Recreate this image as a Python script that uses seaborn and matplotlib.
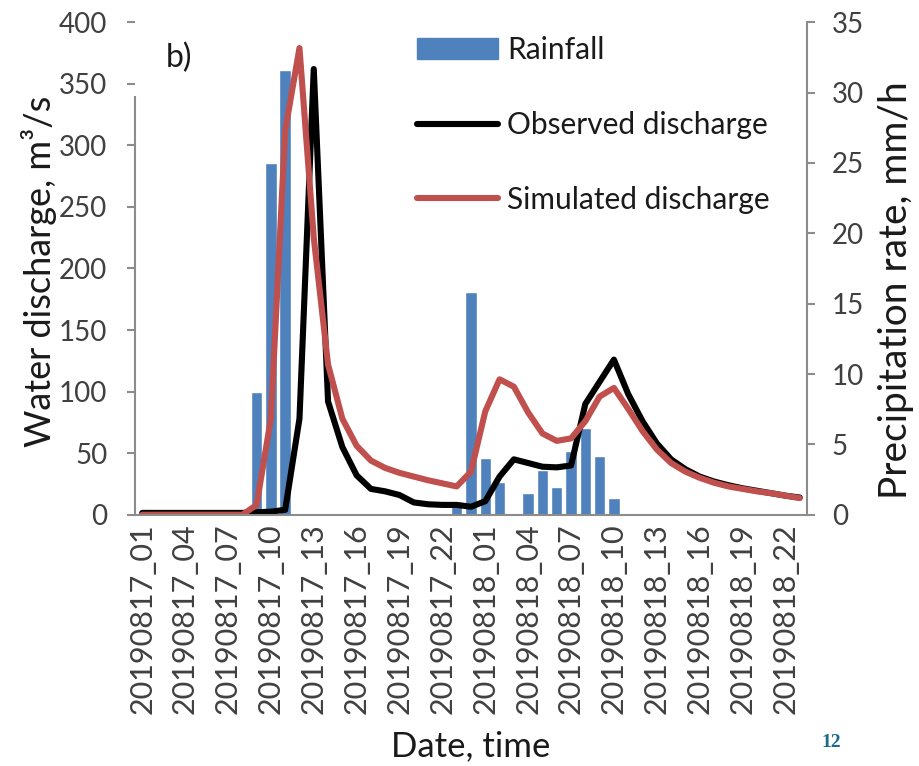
import numpy as np
import pandas as pd
import matplotlib
matplotlib.use("Agg")
import matplotlib.pyplot as plt
import seaborn as sns
from matplotlib.patches import Patch
from matplotlib.lines import Line2D

# hourly time steps, 17 Aug 01h .. 18 Aug 23h
hours = [f"20190817_{h:02d}" for h in range(1, 24)] + [f"20190818_{h:02d}" for h in range(0, 24)]

# precipitation rate, mm/h
rainfall = [0, 0, 0, 0, 0, 0, 0, 0,
            8.7, 25.0, 31.6, 0.15,
            0, 0, 0, 0,
            0.1, 0.1, 0.1,
            0, 0, 0,
            0.6, 15.8, 4.0, 2.35, 0, 1.55, 3.2, 2.0, 4.55, 6.15, 4.2, 1.2,
            0, 0, 0, 0, 0, 0, 0, 0, 0, 0, 0, 0, 0]

# water discharge, m3/s
observed = [1.5, 1.5, 1.5, 1.5, 1.5, 1.5, 1.5, 1.5, 2, 2.5,
            4, 78, 362, 92, 55, 32, 21, 19, 16, 10,
            8.5, 8, 8, 6.5, 11, 31, 45, 42, 39, 38.5,
            40, 90, 108, 126, 98, 76, 58, 45, 37, 31,
            27, 24, 21.5, 19.5, 17.5, 15.5, 14]

simulated = [0, 0, 0, 0, 0, 0, 0, 0, 8, 78,
             312, 379, 225, 122, 78, 56, 44, 38, 34, 31,
             28, 25.5, 23, 35, 84, 110, 104, 83, 66, 60,
             62, 76, 96, 103, 86, 68, 53, 42, 35, 30,
             26, 23, 21, 19, 17.5, 15.5, 13.5]

BLUE = "#4f81bd"
RED = "#c0504d"
GREY = "#8c8c8c"
TXT = "#404040"
LW = 4.4

sns.set_theme(style="white")
plt.rcParams["font.family"] = ["Lato", "DejaVu Sans"]

df = pd.DataFrame({"hour": hours, "rainfall": rainfall,
                   "observed": observed, "simulated": simulated})
df["pos"] = np.arange(len(df))

fig = plt.figure(figsize=(9.19, 7.66), dpi=100)
ax = fig.add_axes([0.147, 0.328, 0.731, 0.643])
ax2 = ax.twinx()

# rainfall bars on the right axis
sns.barplot(data=df, x="hour", y="rainfall", color=BLUE, saturation=1,
            width=0.8, ax=ax2)

# discharge lines on the left axis, drawn above the bars
sns.lineplot(data=df, x="pos", y="observed", color="black", lw=LW, ax=ax)
sns.lineplot(data=df, x="pos", y="simulated", color=RED, lw=LW, ax=ax)
ax.set_zorder(ax2.get_zorder() + 1)
ax.patch.set_visible(False)

ax.set_xlim(-0.5, len(hours) - 0.5)
ax.set_ylim(0, 400)
ax2.set_ylim(0, 35)
ax.set_yticks(np.arange(0, 401, 50))
ax2.set_yticks(np.arange(0, 36, 5))

ax.set_xticks(np.arange(0, len(hours), 3))
ax.set_xticklabels(hours[::3], rotation=90)
ax.set_xticks(np.arange(-0.5, len(hours), 1), minor=True)

ax.tick_params(axis="x", which="major", length=0, pad=6, labelsize=22, labelcolor=TXT)
ax.tick_params(axis="x", which="minor", length=6, width=1.5, color=GREY, direction="out")
ax.tick_params(axis="y", length=6, width=1.5, color=GREY, direction="out",
               labelsize=20, pad=14, labelcolor=TXT)
ax2.tick_params(axis="y", length=6, width=1.5, color=GREY, direction="out",
                labelsize=20, pad=12, labelcolor=TXT)

for s in ["top", "right"]:
    ax.spines[s].set_visible(False)
for s in ["top", "left", "bottom"]:
    ax2.spines[s].set_visible(False)
for s in ["left", "bottom"]:
    ax.spines[s].set_color(GREY)
    ax.spines[s].set_linewidth(1.5)
ax.spines["left"].set_bounds(0, 339)
ax2.spines["right"].set_color(GREY)
ax2.spines["right"].set_linewidth(1.5)

ax.set_xlabel("Date, time", fontsize=25, labelpad=12, color="#1a1a1a")
ax.set_ylabel("Water discharge, m³/s", fontsize=26, color="#1a1a1a")
ax2.set_ylabel("Precipitation rate, mm/h", fontsize=28, color="#1a1a1a")
ax.yaxis.set_label_coords(-0.116, 0.495)
ax2.yaxis.set_label_coords(1.106, 0.456)

ax.text(0.045, 0.927, "b)", transform=ax.transAxes, fontsize=23, va="center", color="#1a1a1a")

handles = [Patch(color=BLUE),
           Line2D([], [], color="black", lw=LW),
           Line2D([], [], color=RED, lw=LW)]
leg = ax.legend(handles, ["Rainfall", "Observed discharge", "Simulated discharge"],
                loc="upper left", bbox_to_anchor=(0.438, 0.972), bbox_transform=fig.transFigure,
                frameon=False, fontsize=21.5, labelspacing=1.56, handlelength=2.7,
                handletextpad=0.3, borderpad=0)
for t in leg.get_texts():
    t.set_color("#1a1a1a")

fig.text(0.905, 0.031, "12", color="#1b6a87", fontsize=14, fontweight="bold",
         family="Liberation Serif", ha="center", va="center")

fig.savefig("out.png", dpi=100)
